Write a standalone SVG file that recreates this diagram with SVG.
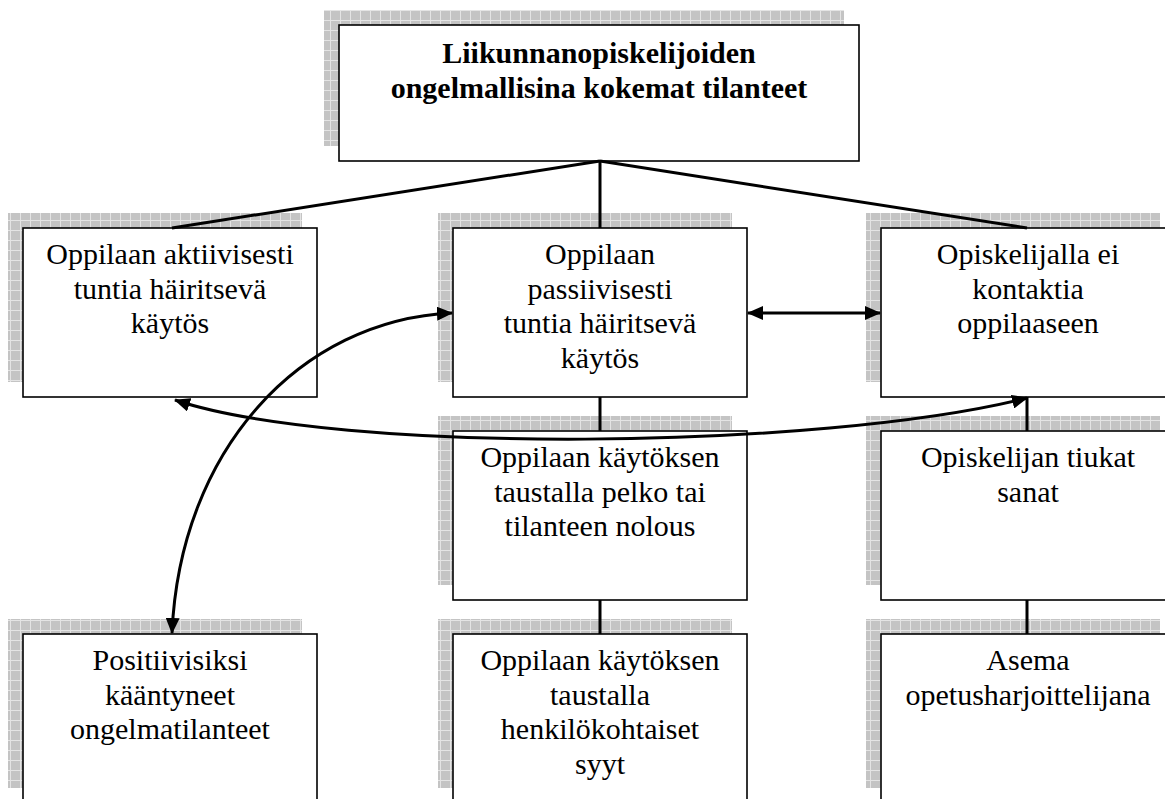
<svg xmlns="http://www.w3.org/2000/svg" width="1165" height="799" viewBox="0 0 1165 799" font-family="Liberation Serif, Times New Roman, serif">
<defs>
<pattern id="grid" width="10" height="10" patternUnits="userSpaceOnUse">
<rect width="10" height="10" fill="#c4c4c4"/>
<path d="M0,0.5 H10 M0.5,0 V10" stroke="#e4e4e4" stroke-width="1" fill="none"/>
</pattern>
<marker id="arr" viewBox="0 0 16 14" markerUnits="userSpaceOnUse" markerWidth="16" markerHeight="14" refX="15" refY="7" orient="auto-start-reverse">
<path d="M0,0 L16,7 L0,14 z" fill="#000"/>
</marker>
<style>
.sh{fill:url(#grid)}
.bx{fill:#fff;stroke:#000;stroke-width:1.6}
.t{font-size:30px;fill:#000;text-anchor:middle}
.tb{font-weight:bold}
.c{fill:none;stroke:#000;stroke-width:3}
</style>
</defs>
<rect width="1165" height="799" fill="#fff"/>

<g id="n-top">
<rect class="sh" x="324" y="10" width="520" height="136"/>
<rect class="bx" x="339" y="25" width="520" height="136"/>
<text class="t tb" font-family="Liberation Serif, serif" x="599" y="63">Liikunnanopiskelijoiden</text>
<text class="t tb" font-family="Liberation Serif, serif" x="599" y="97.5">ongelmallisina kokemat tilanteet</text>
</g>

<g id="n-aktiivisesti" font-family="Liberation Serif, serif">
<rect class="sh" x="8" y="213" width="294" height="169"/>
<rect class="bx" x="23" y="228" width="294" height="169"/>
<text class="t" x="170" y="264">Oppilaan aktiivisesti</text>
<text class="t" x="170" y="298.5">tuntia häiritsevä</text>
<text class="t" x="170" y="333">käytös</text>
</g>

<g id="n-passiivisesti" font-family="Liberation Serif, serif">
<rect class="sh" x="438" y="213" width="294" height="169"/>
<rect class="bx" x="453" y="228" width="294" height="169"/>
<text class="t" x="600" y="264">Oppilaan</text>
<text class="t" x="600" y="298.5">passiivisesti</text>
<text class="t" x="600" y="333">tuntia häiritsevä</text>
<text class="t" x="600" y="367.5">käytös</text>
</g>

<g id="n-kontakti" font-family="Liberation Serif, serif">
<rect class="sh" x="866" y="213" width="294" height="169"/>
<rect class="bx" x="881" y="228" width="294" height="169"/>
<text class="t" x="1028" y="264">Opiskelijalla ei</text>
<text class="t" x="1028" y="298.5">kontaktia</text>
<text class="t" x="1028" y="333">oppilaaseen</text>
</g>

<g id="n-pelko" font-family="Liberation Serif, serif">
<rect class="sh" x="438" y="416" width="294" height="169"/>
<rect class="bx" x="453" y="431" width="294" height="169"/>
<text class="t" x="600" y="467">Oppilaan käytöksen</text>
<text class="t" x="600" y="501.5">taustalla pelko tai</text>
<text class="t" x="600" y="536">tilanteen nolous</text>
</g>

<g id="n-tiukat" font-family="Liberation Serif, serif">
<rect class="sh" x="866" y="416" width="294" height="169"/>
<rect class="bx" x="881" y="431" width="294" height="169"/>
<text class="t" x="1028" y="467">Opiskelijan tiukat</text>
<text class="t" x="1028" y="501.5">sanat</text>
</g>

<g id="n-positiivisiksi" font-family="Liberation Serif, serif">
<rect class="sh" x="8" y="619" width="294" height="169"/>
<rect class="bx" x="23" y="634" width="294" height="169"/>
<text class="t" x="170" y="670">Positiivisiksi</text>
<text class="t" x="170" y="704.5">kääntyneet</text>
<text class="t" x="170" y="739">ongelmatilanteet</text>
</g>

<g id="n-henkilokohtaiset" font-family="Liberation Serif, serif">
<rect class="sh" x="438" y="619" width="294" height="169"/>
<rect class="bx" x="453" y="634" width="294" height="169"/>
<text class="t" x="600" y="670">Oppilaan käytöksen</text>
<text class="t" x="600" y="704.5">taustalla</text>
<text class="t" x="600" y="739">henkilökohtaiset</text>
<text class="t" x="600" y="773.5">syyt</text>
</g>

<g id="n-asema" font-family="Liberation Serif, serif">
<rect class="sh" x="866" y="619" width="294" height="169"/>
<rect class="bx" x="881" y="634" width="294" height="169"/>
<text class="t" x="1028" y="670">Asema</text>
<text class="t" x="1028" y="704.5">opetusharjoittelijana</text>
</g>

<g id="connectors">
<path class="c" d="M600,161 L172,228"/>
<path class="c" d="M600,161 L600,228"/>
<path class="c" d="M600,161 L1027,228"/>
<path class="c" d="M600,397 V431"/>
<path class="c" d="M600,600 V634"/>
<path class="c" d="M1027,397 V431"/>
<path class="c" d="M1027,600 V634"/>
<path class="c" d="M748,313 H880" marker-start="url(#arr)" marker-end="url(#arr)"/>
<path class="c" d="M175,400 C340,455 820,450 1027,398" marker-start="url(#arr)" marker-end="url(#arr)"/>
<path class="c" d="M452,313 C300,320 180,450 172,633" marker-start="url(#arr)" marker-end="url(#arr)"/>
</g>
</svg>
